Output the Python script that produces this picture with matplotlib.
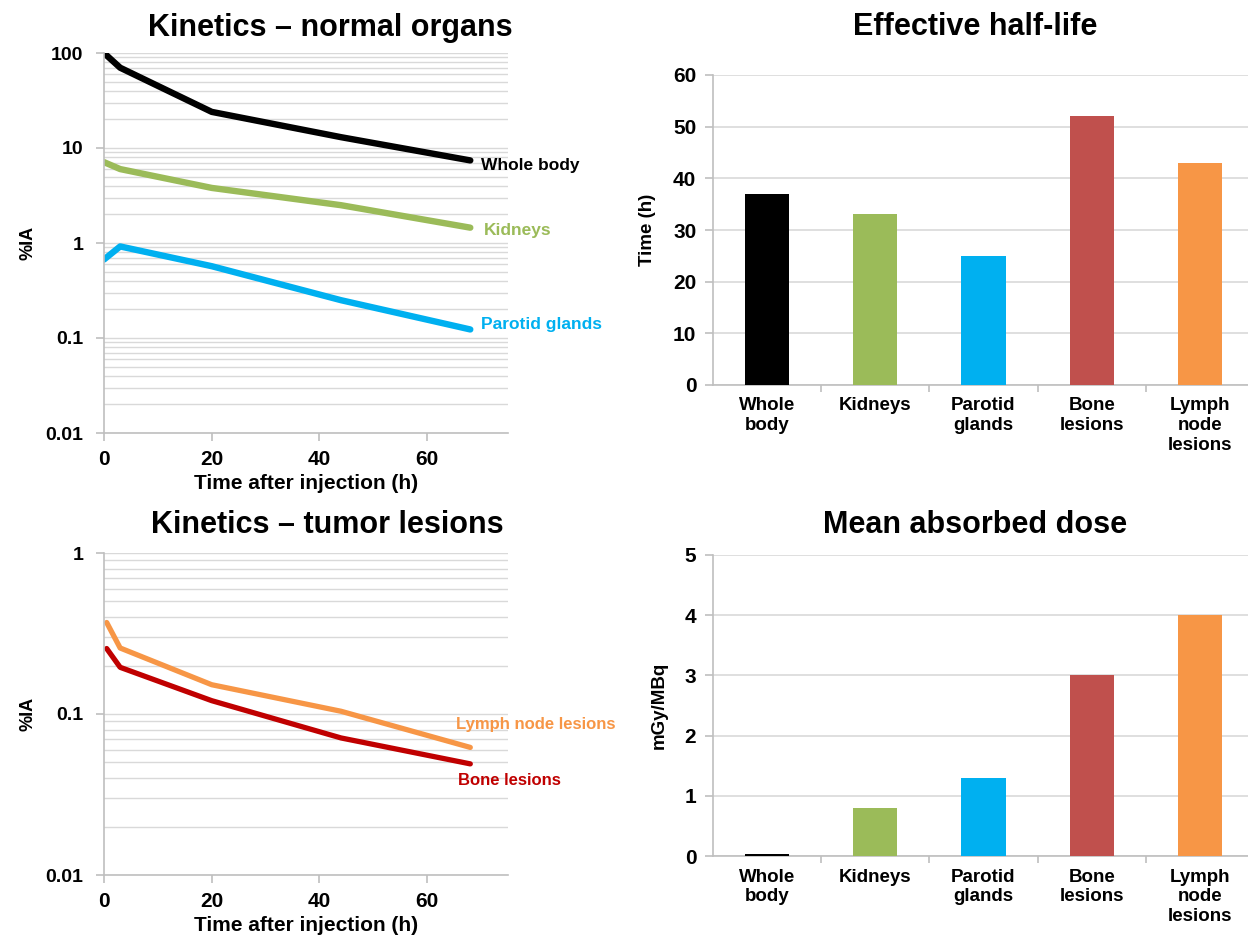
import matplotlib
matplotlib.use("Agg")
import matplotlib.pyplot as plt
from matplotlib.ticker import LogLocator, NullFormatter, FixedLocator

plt.rcParams["font.family"] = ["Liberation Sans", "DejaVu Sans"]
plt.rcParams["font.weight"] = "bold"

# data
t_normal = [0, 3, 20, 44, 68]
whole_body = [100, 70, 24, 13, 7.4]
kidneys = [7.1, 6.0, 3.8, 2.5, 1.45]
parotid = [0.67, 0.92, 0.57, 0.25, 0.123]

t_tumor = [0.5, 3, 20, 44, 68]
lymph_node = [0.37, 0.257, 0.152, 0.104, 0.062]
bone = [0.255, 0.195, 0.121, 0.071, 0.049]

organs = ["Whole\nbody", "Kidneys", "Parotid\nglands", "Bone\nlesions", "Lymph\nnode\nlesions"]
half_life = [37, 33, 25, 52, 43]
dose = [0.03, 0.8, 1.3, 3.0, 4.0]

bar_colors = ["#000000", "#9BBB59", "#00B0F0", "#C0504D", "#F79646"]
grid_col = "#d9d9d9"
spine_col = "#bfbfbf"

W, H = 1248, 941
fig = plt.figure(figsize=(W / 100, H / 100), dpi=100)


def box(x0, x1, y0, y1):
    # pixel box -> figure fraction
    return [x0 / W, 1 - y1 / H, (x1 - x0) / W, (y1 - y0) / H]


def style_log(ax, ymin, ymax):
    ax.set_yscale("log")
    ax.set_ylim(ymin, ymax)
    ax.set_xlim(0, 75)
    ax.yaxis.set_minor_locator(LogLocator(base=10, subs=range(2, 10)))
    ax.yaxis.set_minor_formatter(NullFormatter())
    ticks = [v for v in [0.01, 0.1, 1, 10, 100] if ymin <= v <= ymax]
    ax.set_yticks(ticks)
    ax.set_yticklabels(["%g" % v for v in ticks])
    ax.set_xticks([0, 20, 40, 60])
    ax.grid(True, which="both", axis="y", color=grid_col, lw=1.0)
    ax.set_axisbelow(True)
    for s in ["top", "right"]:
        ax.spines[s].set_visible(False)
    for s in ["left", "bottom"]:
        ax.spines[s].set_color(spine_col)
        ax.spines[s].set_linewidth(1.2)
    ax.tick_params(axis="both", which="major", color=spine_col, length=6, width=1.2)
    ax.tick_params(axis="y", labelsize=14, pad=9)
    ax.tick_params(axis="y", which="minor", length=0)
    ax.tick_params(axis="x", labelsize=15, pad=6)
    ax.set_xlabel("Time after injection (h)", fontsize=15, fontweight="bold", labelpad=4)
    ax.set_ylabel("%IA", fontsize=13, fontweight="bold", labelpad=6)


# --- top left: normal organs kinetics
ax1 = fig.add_axes(box(104, 508, 53, 433))
style_log(ax1, 0.01, 100)
ax1.plot(t_normal, whole_body, color="#000000", lw=4.6, solid_capstyle="round")
ax1.plot(t_normal, kidneys, color="#9BBB59", lw=4.6, solid_capstyle="round")
ax1.plot(t_normal, parotid, color="#00B0F0", lw=4.6, solid_capstyle="round")
ax1.annotate("Whole body", (t_normal[-1], whole_body[-1]), xytext=(11, -5),
             textcoords="offset pixels", va="center", fontsize=12.5, color="#000000")
ax1.annotate("Kidneys", (t_normal[-1], kidneys[-1]), xytext=(14, -3),
             textcoords="offset pixels", va="center", fontsize=12.5, color="#9BBB59")
ax1.annotate("Parotid glands", (t_normal[-1], parotid[-1]), xytext=(11, 5),
             textcoords="offset pixels", va="center", fontsize=12.5, color="#00B0F0")
fig.text(330 / W, 1 - 28 / H, "Kinetics \u2013 normal organs", ha="center", va="center",
         fontsize=22, fontweight="bold")

# --- bottom left: tumor lesions kinetics
ax2 = fig.add_axes(box(104, 508, 553, 875))
style_log(ax2, 0.01, 1)
ax2.plot(t_tumor, lymph_node, color="#F79646", lw=3.8, solid_capstyle="round")
ax2.plot(t_tumor, bone, color="#C00000", lw=3.8, solid_capstyle="round")
ax2.annotate("Lymph node lesions", (t_tumor[-1], lymph_node[-1]), xytext=(-14, 23),
             textcoords="offset pixels", va="center", fontsize=12, color="#F79646")
ax2.annotate("Bone lesions", (t_tumor[-1], bone[-1]), xytext=(-12, -17),
             textcoords="offset pixels", va="center", fontsize=12, color="#C00000")
fig.text(327 / W, 1 - 525 / H, "Kinetics \u2013 tumor lesions", ha="center", va="center",
         fontsize=22, fontweight="bold")


def style_bar(ax, vals, ymax, step, ylabel):
    x = range(len(vals))
    ax.bar(x, vals, width=0.41, color=bar_colors, zorder=3)
    ax.set_xlim(-0.5, len(vals) - 0.5)
    ax.set_ylim(0, ymax)
    ax.set_yticks([i * step for i in range(int(round(ymax / step)) + 1)])
    ax.set_xticks(list(x))
    ax.set_xticklabels(organs, fontsize=13.5, fontweight="bold", va="top")
    ax.xaxis.set_minor_locator(FixedLocator([i + 0.5 for i in range(len(vals) - 1)]))
    ax.grid(True, axis="y", color=grid_col, lw=1.2)
    ax.set_axisbelow(True)
    for s in ["top", "right"]:
        ax.spines[s].set_visible(False)
    for s in ["left", "bottom"]:
        ax.spines[s].set_color(spine_col)
        ax.spines[s].set_linewidth(1.2)
    ax.tick_params(axis="x", which="major", length=0, pad=9)
    ax.tick_params(axis="x", which="minor", length=5, color=spine_col, width=1.2)
    ax.tick_params(axis="y", length=6, color=spine_col, width=1.2, labelsize=15, pad=6)
    ax.set_ylabel(ylabel, fontsize=13.5, fontweight="bold", labelpad=12)


# --- top right: effective half-life
ax3 = fig.add_axes(box(713, 1254, 75, 385))
style_bar(ax3, half_life, 60, 10, "Time (h)")
fig.text(975 / W, 1 - 27 / H, "Effective half-life", ha="center", va="center",
         fontsize=22, fontweight="bold")

# --- bottom right: mean absorbed dose
ax4 = fig.add_axes(box(713, 1254, 555, 856))
style_bar(ax4, dose, 5, 1, "mGy/MBq")
fig.text(975 / W, 1 - 525 / H, "Mean absorbed dose", ha="center", va="center",
         fontsize=22, fontweight="bold")

fig.savefig("out.png", dpi=100)
